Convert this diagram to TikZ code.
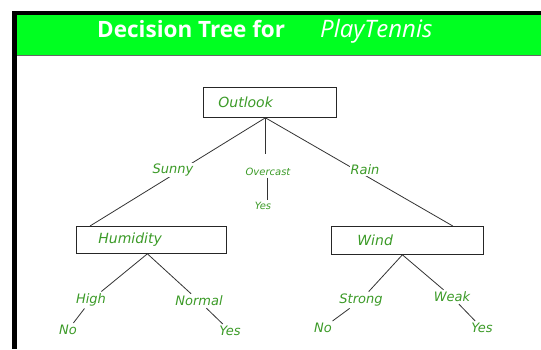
\documentclass[tikz,border=0pt]{standalone}
\usepackage{fontspec}
\setmainfont{Open Sans}
\newfontfamily\hand{DejaVu Sans}
\definecolor{bannergreen}{RGB}{0,255,33}
\definecolor{labgreen}{RGB}{60,155,40}
\begin{document}
\begin{tikzpicture}[x=1pt,y=-1pt,
  box/.style={draw=black!85, line width=0.8pt, minimum height=29pt, align=left,
    text=labgreen, font=\hand\itshape\fontsize{14}{14}\selectfont, anchor=north west, inner ysep=0pt},
  lab/.style={text=labgreen, font=\hand\itshape\fontsize{13}{13}\selectfont, inner sep=2pt},
  small/.style={text=labgreen, font=\hand\itshape\fontsize{10}{10}\selectfont, inner sep=2pt},
  edge/.style={draw=black!80, line width=0.8pt}]
\useasboundingbox (0,0) rectangle (541,349);
\fill[white] (0,0) rectangle (541,349);
% frame and banner
\fill[bannergreen] (17,15) rectangle (541,55);
\fill[black] (12,11) rectangle (541,15);
\fill[black] (12,11) rectangle (17,349);
\draw[black!60, line width=0.8pt] (17,55.5) -- (541,55.5);
\node[anchor=base west, text=white, font=\bfseries\fontsize{22.5}{23}\selectfont, inner sep=0] (title) at (97,37.5) {Decision Tree for};
\node[anchor=base west, text=white, font=\itshape\fontsize{24}{24}\selectfont, inner sep=0] (title2) at (320,37.5) {PlayTennis};
% boxes
\node[box, inner xsep=15pt, text width=103pt, minimum height=30pt] (outlook) at (203,87) {Outlook};
\node[box, inner xsep=22pt, text width=106pt, minimum height=27pt] (hum) at (76,226) {Humidity};
\node[box, inner xsep=26pt, text width=100pt, minimum height=28pt] (wind) at (331,226) {Wind};
% joints
\coordinate (t) at ([xshift=-4.5pt]outlook.south);
\coordinate (h) at ([xshift=-4pt]hum.south);
\coordinate (w) at ([xshift=-5pt]wind.south);
% labels (no fill)
\node[small] (overcast) at (268,172) {Overcast};
\node[small] (yes0) at (263,206) {Yes};
\node[lab] (high) at (91,300) {High};
\node[lab] (no1) at (68,330) {No};
\node[lab] (normal) at (199,301) {Normal};
\node[lab] (yes1) at (230,331) {Yes};
\node[lab] (strong) at (361,300) {Strong};
\node[lab] (no2) at (323,328) {No};
\node[lab] (weak) at (452,297) {Weak};
\node[lab] (yes2) at (482,328) {Yes};
% edges
\draw[edge] (t) -- ([xshift=14pt]hum.north west);
\draw[edge] (t) -- ([xshift=-31pt]wind.north east);
\draw[edge] (t) -- ([yshift=12pt]t |- overcast.north);
\draw[edge] ([xshift=-1pt]overcast.south) -- ([xshift=-1pt]overcast.south |- yes0.north);
\draw[edge] (h) -- (high);
\draw[edge] (high) -- (no1);
\draw[edge] (h) -- (normal);
\draw[edge] (normal) -- (yes1);
\draw[edge] (w) -- (strong);
\draw[edge] (strong) -- (no2);
\draw[edge] (w) -- (weak);
\draw[edge] (weak) -- (yes2);
% labels over edges
\node[lab, fill=white, inner sep=1pt] (sunny) at (173,170) {Sunny};
\node[lab, fill=white, inner sep=1pt] (rain) at (365,170) {Rain};
\end{tikzpicture}
\end{document}
